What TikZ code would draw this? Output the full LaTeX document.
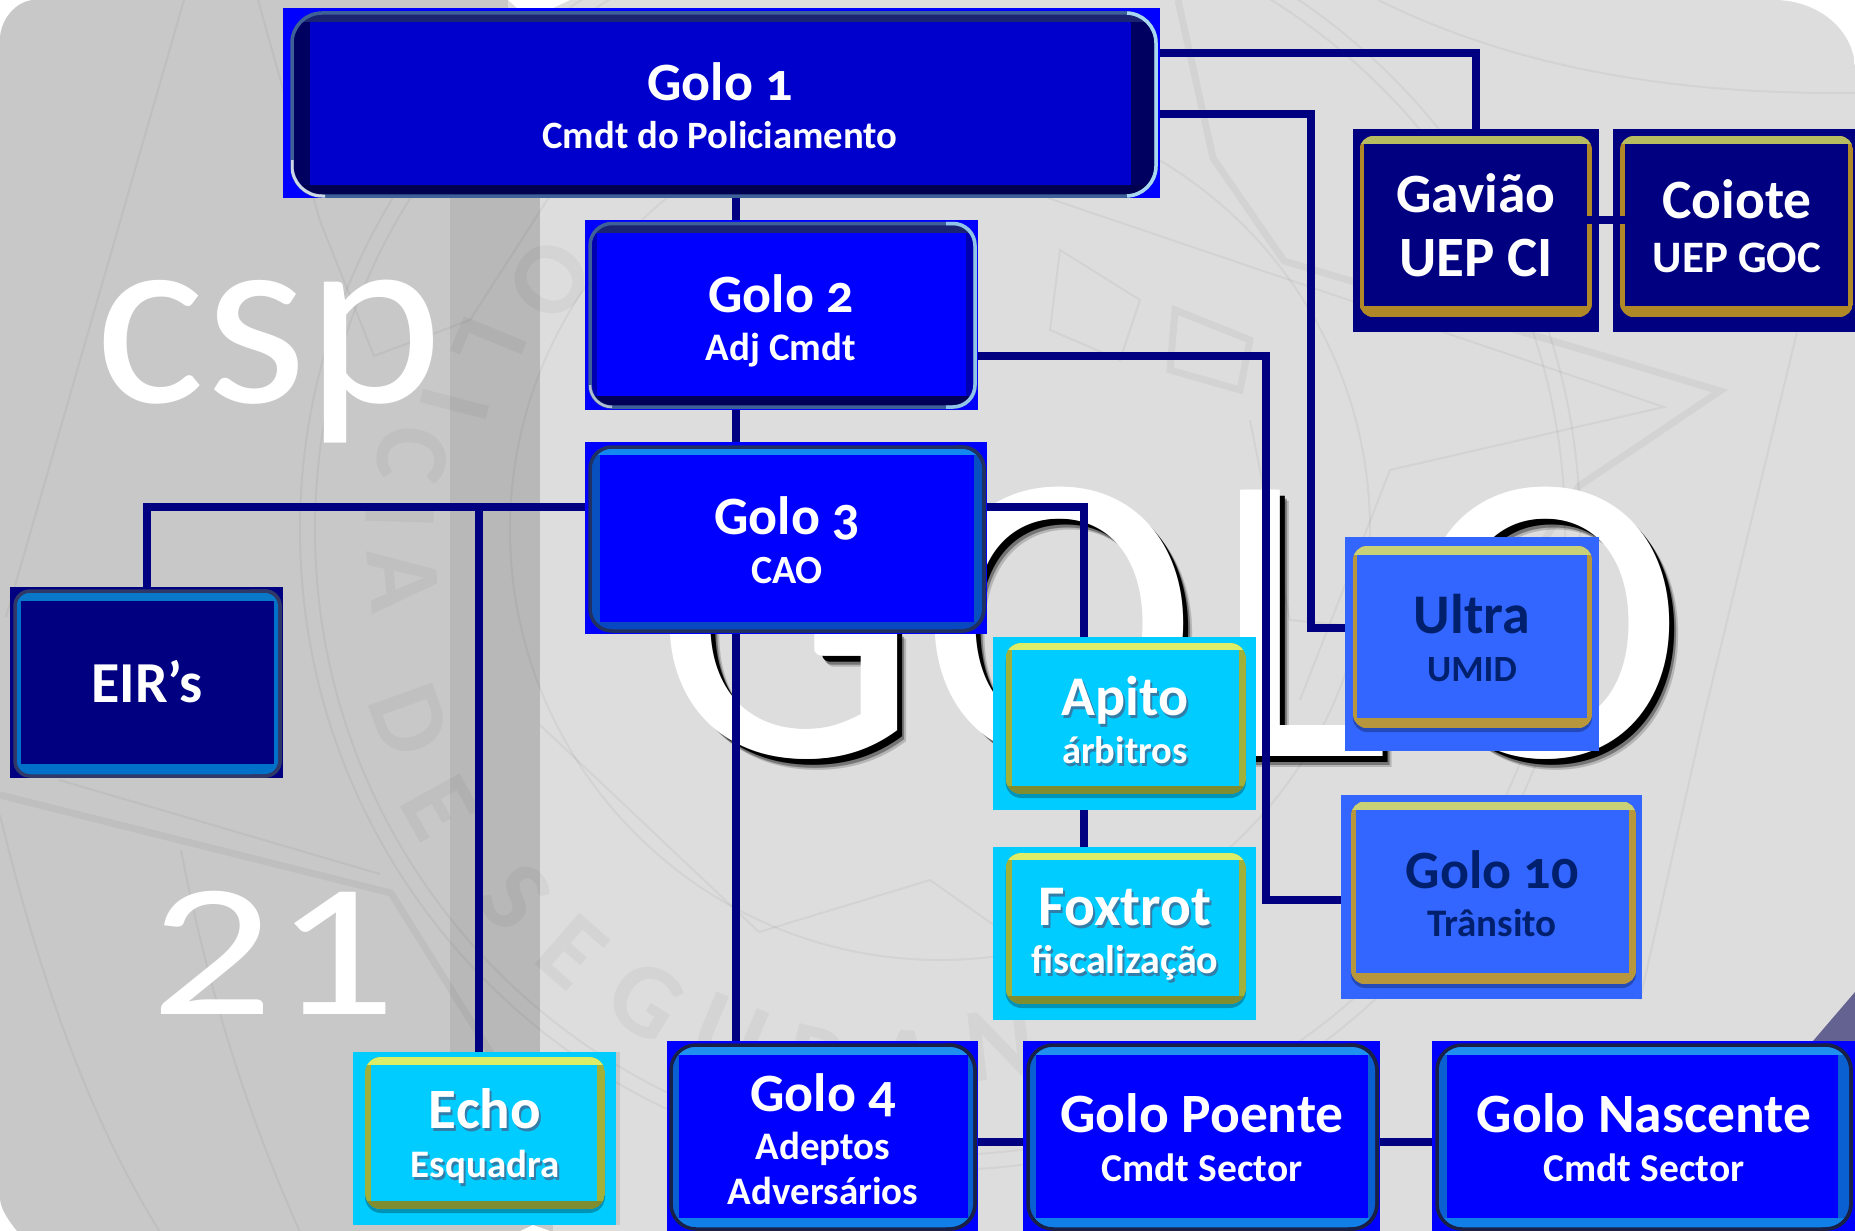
\documentclass[tikz,border=0pt]{standalone}
\usepackage{fontspec}
\setmainfont{Carlito}
\newfontfamily\lab[Numbers=OldStyle]{Carlito}
\newfontfamily\bigf[Numbers=Lining]{Carlito}
\definecolor{navy}{HTML}{000080}
\definecolor{bgm}{HTML}{DDDDDD}
\definecolor{bgl}{HTML}{C8C8C8}
\definecolor{bgd}{HTML}{B8B8B8}
\definecolor{darklab}{HTML}{00206E}
\definecolor{cornerc}{HTML}{646290}
\newcommand\mytype[8]{%
  \definecolor{cOut}{HTML}{#1}\definecolor{cIn}{HTML}{#2}\definecolor{cTop}{HTML}{#3}%
  \definecolor{cBot}{HTML}{#4}\definecolor{cSide}{HTML}{#5}\definecolor{cEdge}{HTML}{#6}%
  \definecolor{cEdgeR}{HTML}{#7}\def\myR{#8}}
\newcommand\typeA{\mytype{0000FF}{0000CC}{1A2470}{000050}{000060}{3E6098}{A8D8F0}{30}\def\myS{0}}
\newcommand\typeB{\mytype{0000FF}{0000FF}{1A2470}{000058}{0000B0}{3E6098}{90C4E8}{22}\def\myS{0}}
\newcommand\typeC{\mytype{0000FF}{0000FF}{1288F0}{0848C0}{0850C0}{203060}{203060}{22}\def\myS{0}}
\newcommand\typeD{\mytype{0000FF}{0000FF}{2090F0}{1080E8}{0A60D0}{182048}{182048}{25}\def\myS{0}}
\newcommand\typeE{\mytype{000080}{000080}{0A78C8}{0070C8}{0070C8}{303868}{303868}{15}\def\myS{0}}
\newcommand\typeF{\mytype{00CCFF}{00CCFF}{DCEE68}{7F8C30}{A0B038}{8C9A38}{8C9A38}{16}\def\myS{1}}
\newcommand\typeG{\mytype{3366FF}{3366FF}{C8D078}{B8963C}{B8963C}{A89048}{A89048}{14}\def\myS{1}}
\newcommand\typeH{\mytype{000080}{000080}{B8BC60}{B08828}{B08828}{B08828}{B08828}{14}\def\myS{2}}
\def\getfour#1,#2,#3,#4\relax#5{\def\ax{#1}\def\ay{#2}\def\bx{#3}\def\by{#4}#5}
\newcommand\bevelbox[5]{%
  \csname type#1\endcsname
  \getfour#3\relax{\pgfmathsetmacro\cx{(\ax+\bx)/2}\pgfmathsetmacro\cy{(\ay+\by)/2}%
    \pgfmathsetmacro\boxw{\bx-\ax}\pgfmathsetmacro\boxh{\by-\ay}}%
  \node[outerbox,fill=cOut,minimum width=\boxw pt,minimum height=\boxh pt] (#2) at (\cx,\cy) {};
  \getfour#5\relax{\edef\ia{\ax}\edef\ib{\ay}\edef\ic{\bx}\edef\id{\by}}%
  \getfour#4\relax{%
    \ifnum\myS=1
      \fill[black,opacity=.28,rounded corners=\myR pt] (\ax,\ay+4) rectangle (\bx,\by+4);
    \fi
    \begin{scope}
      \clip[rounded corners=\myR pt] (\ax,\ay) rectangle (\bx,\by);
      \fill[cSide] (\ax,\ay) rectangle (\bx,\by);
      \fill[cTop] (\ax,\ay) rectangle (\bx,\ib);
      \fill[cBot] (\ax,\id) rectangle (\bx,\by);
    \end{scope}
    \ifnum\myS=0
      \draw[cEdge,line width=3.5pt,rounded corners=\myR pt] (\ax+1,\ay+1) rectangle (\bx-1,\by-1);
      \begin{scope}
        \clip (\bx-30,\ay-5) rectangle (\bx+5,\by+5);
        \draw[cEdgeR,line width=3.5pt,rounded corners=\myR pt] (\ax+1,\ay+1) rectangle (\bx-1,\by-1);
      \end{scope}
    \fi
  }%
  \pgfmathsetmacro\icx{(\ia+\ic)/2}\pgfmathsetmacro\icy{(\ib+\id)/2}%
  \pgfmathsetmacro\iw{\ic-\ia}\pgfmathsetmacro\ih{\id-\ib}%
  \node[outerbox,fill=cIn,minimum width=\iw pt,minimum height=\ih pt] (#2i) at (\icx,\icy) {};
}
\newcommand\lbl[6][white]{\node[lbltext,text=#1,font=\lab\bfseries\fontsize{#5}{#5}\selectfont] (#2) at (#3,#4) {#6};}
\newcommand\slbl[5]{%
  \node[lbltext,text=black!55!cyan!70!blue,opacity=.75,font=\lab\bfseries\fontsize{#4}{#4}\selectfont] (#1s) at (#2+2,#3+3) {#5};
  \node[lbltext,text=white,font=\lab\bfseries\fontsize{#4}{#4}\selectfont] (#1) at (#2,#3) {#5};}
\newcommand\bigletter[3]{%
  \node[bigtxt,text=black,opacity=.18] (#1a) at (#2+12,767) {#3};
  \node[bigtxt,text=black,opacity=.35] (#1b) at (#2+10,765) {#3};
  \node[bigtxt,text=black] (#1c) at (#2+8,762) {#3};
  \node[bigtxt,text=white] (#1w) at (#2+3,756) {#3};
  \node[bigtxt,text=white] (#1) at (#2,756) {#3};}
\tikzset{
  outerbox/.style={inner sep=0pt,outer sep=0pt,draw=none},
  lbltext/.style={inner sep=0pt,outer sep=0pt,anchor=base},
  bigtxt/.style={inner sep=0pt,outer sep=0pt,anchor=base west,font=\bigf\fontsize{415}{415}\selectfont},
  conn/.style={draw=navy,line width=8pt},
  wm/.style={draw=black,opacity=.045},
  wmthin/.style={wm,line width=2pt},
  wmthick/.style={wm,line width=7pt},
  wmtxt/.style={inner sep=0pt,text=black,opacity=.04,font=\bigf\bfseries\fontsize{105}{105}\selectfont}
}
\begin{document}
\begin{tikzpicture}[x=1pt,y=-1pt]
\useasboundingbox (0,0) rectangle (1855,1231);
\fill[white] (0,0) rectangle (1855,1232);
\def\bgpath{(36,0) -- (1774,0) .. controls (1818,0) and (1855,30) .. (1855,70) -- (1855,1232) -- (18,1232) .. controls (8,1220) and (0,1208) .. (0,1197) -- (0,40) .. controls (0,20) and (16,0) .. (36,0) -- cycle}
\begin{scope}
  \clip \bgpath;
  \fill[bgm] (0,0) rectangle (1855,1232);
  \fill[bgl] (0,0) rectangle (508,8);
  \fill[bgl] (0,0) rectangle (450,1232);
  \fill[bgl] (450,1052) rectangle (620,1232);
  \fill[bgd] (450,8) rectangle (540,1052);
  \fill[white] (508,0) -- (517,8) -- (553,8) -- (570,0) -- cycle;
  \fill[white] (518,1232) -- (533,1225) -- (553,1232) -- cycle;
  \fill[bgm] (553,1225) rectangle (667,1232);
  \fill[cornerc] (1813,1041) -- (1855,992) -- (1855,1232) -- (1813,1232) -- cycle;
  % faint emblem
  \draw[wmthin] (940,530) circle (625);
  \draw[wmthin] (940,530) circle (640);
  \draw[wmthin] (940,530) circle (430);
  \draw[wmthick] (1178,0) -- (1213,158) -- (1284,261) -- (1590,352) -- (1720,391) -- (1579,486) -- (1480,640);
  \draw[wmthin] (1048,198) -- (1664,407) -- (1390,470) -- (1300,700);
  \draw[wmthin] (1797,332) -- (1703,720) -- (1640,1000);
  \draw[wmthin] (1378,0) .. controls (1500,60) and (1650,95) .. (1855,93);
  \draw[wmthick] (0,795) -- (391,893) -- (520,1100);
  \draw[wmthin] (59,780) -- (380,874);
  \draw[wmthin] (184,0) -- (6,617);
  \draw[wmthin] (258,0) -- (320,221) -- (374,356) -- (470,320) -- (560,180);
  \draw[wmthin] (0,815) .. controls (40,980) and (90,1120) .. (160,1232);
  \draw[wmthin] (181,850) .. controls (210,1000) and (250,1120) .. (300,1232);
  \draw[wmthin] (540,725) -- (759,932) -- (930,880) -- (1100,1000);
  \draw[wmthin] (1250,420) -- (1290,620) -- (1500,640);
  \draw[wmthin] (1060,250) -- (1140,300) -- (1120,360) -- (1050,330) -- cycle;
  \draw[wmthick] (1175,310) -- (1250,340) -- (1240,390) -- (1170,370) -- cycle;
  \foreach \ch/\px/\py [count=\i] in {O/550/280,L/490/345,I/455/405,C/412/455,I/400/515,A/403/580,D/410/720,E/440/807,S/515/897,E/572/952,G/646/1000,U/730/1035,R/815/1062,A/905/1065,N/1000/1045}{
    \pgfmathsetmacro\ang{atan2(530-\py,\px-940)+90}
    \node[wmtxt,rotate=\ang] (wml\i) at (\px,\py) {\ch};
  }
\end{scope}
% big letters
\node[inner sep=0pt,anchor=base west,text=white,xscale=1.03,font=\bigf\fontsize{252}{252}\selectfont] (csp) at (95,402) {csp};
\node[inner sep=0pt,anchor=base west,text=white,xscale=1.28,font=\bigf\fontsize{190}{190}\selectfont] (twentyone) at (150,1014) {21};
\bigletter{bgG}{654}{G}
\bigletter{bgOa}{920}{O}
\bigletter{bgL}{1212}{L}
\bigletter{bgOb}{1406}{O}
% boxes
\bevelbox{A}{gone}{283,8,1160,198}{291,12,1157,197}{310,22,1131,185}
\bevelbox{B}{gtwo}{585,220,978,410}{589,222.5,976,408}{597,233,966,396}
\bevelbox{C}{gthree}{585,442,987,634}{589,446,985,632}{600,455,974,622}
\bevelbox{E}{eir}{10,587,283,778}{14,590,281,777}{21,601,274,764}
\bevelbox{F}{echo}{353,1052,616,1225}{365,1057,605,1209}{371,1065,597,1201}
\bevelbox{D}{gfour}{667,1041,978,1240}{670,1044,976,1230}{679,1055,968,1218}
\bevelbox{D}{poente}{1023,1041,1380,1240}{1027,1044,1378,1230}{1036,1055,1368,1218}
\bevelbox{D}{nascente}{1432,1041,1860,1240}{1436,1044,1852,1230}{1447,1055,1838,1218}
\bevelbox{F}{apito}{993,637,1256,810}{1005.5,643,1246,794}{1012,650,1238.5,786}
\bevelbox{F}{foxtrot}{993,847,1256,1020}{1005.5,853,1246,1004}{1012,860,1238.5,996}
\bevelbox{G}{gten}{1341,795,1642,999}{1351,801.5,1636,984}{1356,810,1629,973}
\bevelbox{G}{ultra}{1345,537,1599,751}{1353,546,1592,728}{1356.5,555,1587,718}
\bevelbox{H}{gaviao}{1353,129,1599,332}{1359.5,136,1592,317}{1364,144,1587,306}
\bevelbox{H}{coiote}{1613,129,1860,332}{1620,136,1853,317}{1625,144,1848,306}
% highlights on the two top frames
\begin{scope}
  \clip (291,160) rectangle (325,197);
  \draw[white,opacity=.75,line width=3pt,rounded corners=30pt] (292,13) rectangle (1156,196);
\end{scope}
\begin{scope}
  \clip (589,385) rectangle (612,408);
  \draw[white,opacity=.6,line width=2.5pt,rounded corners=22pt] (590,223.5) rectangle (975,407);
\end{scope}
% connector reference points
\coordinate (trunk) at (736,0);
\coordinate (echoline) at (479,0);
\coordinate (lineA) at (0,53);
\coordinate (lineB) at (0,114);
\coordinate (lineC) at (0,355.5);
\coordinate (lineD) at (0,507);
\coordinate (lineE) at (0,628);
\coordinate (lineF) at (0,900);
\coordinate (lineG) at (0,1142);
\coordinate (lineH) at (0,220);
\coordinate (apline) at (1084,0);
\coordinate (ultrax) at (1310.5,0);
\coordinate (gtenx) at (1266,0);
% connectors
\draw[conn] (gone.south -| trunk) -- (gtwo.north -| trunk);
\draw[conn] (gtwo.south -| trunk) -- (gthree.north -| trunk);
\draw[conn] (gthree.south -| trunk) -- (gfour.north -| trunk);
\draw[conn] (gone.east |- lineA) -| (gaviao.north);
\draw[conn] (gone.east |- lineB) -- (ultrax |- lineB) -- (ultrax |- lineE) -- (ultra.west |- lineE);
\draw[conn] (gtwo.east |- lineC) -- (gtenx |- lineC) -- (gtenx |- lineF) -- (gten.west |- lineF);
\draw[conn] (gthree.east |- lineD) -- (apline |- lineD) -- (apline |- apito.north);
\draw[conn] (apline |- apito.south) -- (apline |- foxtrot.north);
\draw[conn] (gthree.west |- lineD) -| (eir.north);
\draw[conn] (echoline |- lineD) -- (echoline |- echo.north);
\draw[conn] (gfour.east |- lineG) -- (poente.west |- lineG);
\draw[conn] (poente.east |- lineG) -- (nascente.west |- lineG);
\draw[conn] (gaviaoi.east |- lineH) -- (coiotei.west |- lineH);
% labels
\lbl{t1a}{720}{100}{54}{Golo 1}
\lbl{t1b}{720}{148}{38.7}{Cmdt do Policiamento}
\lbl{t2a}{781}{312}{54}{Golo 2}
\lbl{t2b}{781}{360}{39}{Adj Cmdt}
\lbl{t3a}{787}{534.5}{54}{Golo 3}
\lbl{t3b}{787}{583}{40}{CAO}
\lbl{teir}{147}{702}{58}{EIR’s}
\slbl{techa}{485}{1128}{57}{Echo}
\slbl{techb}{485}{1177}{39}{Esquadra}
\lbl{t4a}{823}{1111}{54}{Golo 4}
\lbl{t4b}{823}{1159}{39}{Adeptos}
\lbl{t4c}{823}{1204.5}{39}{Adversários}
\lbl{tpa}{1202}{1132}{55.5}{Golo Poente}
\lbl{tpb}{1202}{1181}{39.5}{Cmdt Sector}
\lbl{tna}{1644}{1132}{55.5}{Golo Nascente}
\lbl{tnb}{1644}{1181}{39.5}{Cmdt Sector}
\slbl{tapa}{1125}{715}{56}{Apito}
\slbl{tapb}{1125}{763.5}{38.5}{árbitros}
\slbl{tfxa}{1125}{925}{57.5}{Foxtrot}
\slbl{tfxb}{1125}{973}{40}{fiscalização}
\lbl[darklab]{tga}{1492}{888}{54}{Golo 10}
\lbl[darklab]{tgb}{1492}{936}{39}{Trânsito}
\lbl[darklab]{tua}{1472}{633}{56}{Ultra}
\lbl[darklab]{tub}{1472}{681}{37}{UMID}
\lbl{tgva}{1476}{212.5}{55.5}{Gavião}
\lbl{tgvb}{1476}{276.5}{57}{UEP CI}
\lbl{tcoa}{1737}{218.5}{55.5}{Coiote}
\lbl{tcob}{1737}{272.5}{45}{UEP GOC}
\end{tikzpicture}
\end{document}
